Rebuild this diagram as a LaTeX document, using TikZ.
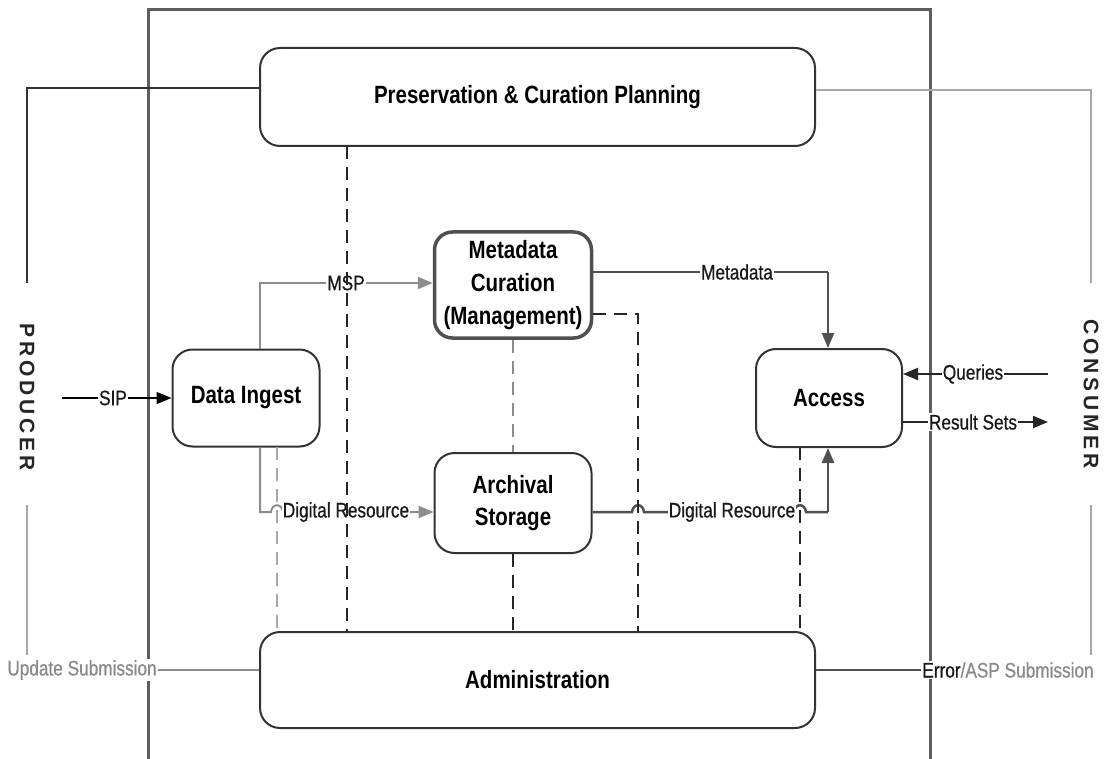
\documentclass[tikz,border=0pt]{standalone}
\usepackage{fontspec}
\setmainfont{Liberation Sans}[FakeStretch=0.82]
\newfontfamily\sidefont{Liberation Sans}[LetterSpace=18]
\newfontfamily\labelfont{Liberation Sans}[FakeStretch=0.82, FakeBold=0.6]
\usetikzlibrary{arrows.meta}

\definecolor{framegray}{HTML}{5E5E5E}
\definecolor{lightline}{HTML}{A8A8A8}
\definecolor{midline}{HTML}{8C8C8C}
\definecolor{darkline}{HTML}{505050}
\definecolor{labelgray}{HTML}{8A8A8A}

\tikzset{
  box/.style={draw=black!80, line width=2pt, rounded corners=20pt, fill=white,
    align=center, font=\bfseries\fontsize{25}{32}\selectfont},
  lbl/.style={fill=white, inner sep=1pt, font=\labelfont\fontsize{21}{24}\selectfont, text=black!90},
  side/.style={rotate=-90, font=\sidefont\bfseries\fontsize{21}{24}\selectfont, text=black!85},
  tip/.style={-{Triangle[length=15pt,width=12pt]}},
  dashline/.style={line width=2pt, dash pattern=on 13pt off 8pt},
}

\begin{document}
\begin{tikzpicture}[x=1pt,y=-1pt]
\useasboundingbox (0,0) rectangle (1105,759);

% system frame
\draw[framegray, line width=3pt] (148,759) -- (148,10) -- (930,10) -- (930,759);

% functional entities
\node[box, minimum width=555pt, minimum height=98pt] (pres) at (537.5,97) {Preservation \& Curation Planning};
\node[box, minimum width=555pt, minimum height=96pt] (admin) at (537.5,680) {Administration};
\node[box, minimum width=147pt, minimum height=97pt] (ingest) at (246,398) {Data Ingest};
\node[box, draw=darkline, line width=3.5pt, rounded corners=18pt, minimum width=157pt, minimum height=106pt,
      font=\bfseries\fontsize{25}{33}\selectfont] (meta) at (513,285) {Metadata\\Curation\\(Management)};
\node[box, minimum width=157pt, minimum height=100pt] (arch) at (513,503) {Archival\\Storage};
\node[box, minimum width=146pt, minimum height=98pt] (access) at (829,398) {Access};

% outside parties
\node[side] (producer) at (27,397) {PRODUCER};
\node[side] (consumer) at (1091,394) {CONSUMER};

% routing points
\coordinate (p1) at (27,88);   \coordinate (p2) at (27,283);
\coordinate (p3) at (27,505);  \coordinate (p4) at (27,655);
\coordinate (c1) at (1091,90); \coordinate (c2) at (1091,283);
\coordinate (c3) at (1091,505);\coordinate (c4) at (1091,655);
\coordinate (sip) at (62,398);
\coordinate (msp) at (260,283);
\coordinate (drl) at (260,512);
\coordinate (mdc) at (828,272);
\coordinate (drr) at (828,512);
\coordinate (qs) at (1048,374);
\coordinate (rs) at (1048,422);
\coordinate (dk) at (638,314);
\coordinate (ddi) at (277,447);
\coordinate (dps) at (347,146);
\coordinate (dac) at (800,447);

% producer and consumer links
\draw[black!80, line width=2pt] (pres.west |- p1) -- (p1) -- (p2);
\draw[lightline, line width=2.5pt] (p3) -- (p4);
\draw[lightline, line width=2.5pt] (pres.east |- c1) -- (c1) -- (c2);
\draw[lightline, line width=2.5pt] (c3) -- (c4);

% flows
\draw[black, line width=1.5pt, tip] (sip) -- (ingest.west);
\draw[midline, line width=2pt, tip] (ingest.north -| msp) -- (msp) -- (meta.west |- msp);
\draw[midline, line width=2pt, tip] (ingest.south -| drl) -- (drl) -- (271,512)
   .. controls (272,503) and (282,503) .. (283,512) -- (arch.west |- drl);
\draw[darkline, line width=2.5pt] (meta.east |- mdc) -- (mdc);
\draw[darkline, line width=2.5pt, tip] (mdc) -- (mdc |- access.north);
\draw[darkline, line width=2.5pt] (arch.east |- drr) -- (632,512)
   .. controls (633,503) and (643,503) .. (644,512) -- (794,512)
   .. controls (795,503) and (805,503) .. (806,512) -- (drr);
\draw[darkline, line width=2.5pt, tip] (drr) -- (drr |- access.south);
\draw[black!85, line width=2pt, tip] (qs) -- (access.east |- qs);
\draw[black!85, line width=2pt, tip] (access.east |- rs) -- (rs);

% flow labels
\node[lbl] (lsip) at (113,398) {SIP};
\node[lbl] (lmsp) at (346,283) {MSP};
\node[lbl] (lmeta) at (737,272) {Metadata};
\node[lbl] (lq) at (973,374) {Queries};
\node[lbl] (lrs) at (973,422) {Result Sets};
\node[lbl] (ldrl) at (346,512) {Digital Resource};
\node[lbl] (ldrr) at (732,512) {Digital Resource};
\node[lbl, text=labelgray] (lupd) at (82,670) {Update Submission};
\node[lbl, text=labelgray] (lerr) at (1008,670) {{\color{black!90}Error}/ASP Submission};

\draw[midline, line width=2pt] (lupd.east) -- (admin.west |- lupd);
\draw[darkline, line width=2pt] (admin.east |- lerr) -- (lerr.west);

% management links
\draw[lightline, dashline] (ddi) -- (ddi |- admin.north);
\draw[black!85, dashline] (dps) -- (dps |- admin.north);
\draw[midline, dashline] (meta.south) -- (arch.north);
\draw[black!85, dashline] (arch.south) -- (admin.north -| arch.south);
\draw[black!85, dashline] (meta.east |- dk) -- (dk) -- (dk |- admin.north);
\draw[black!85, dashline] (dac) -- (dac |- admin.north);
\end{tikzpicture}
\end{document}
